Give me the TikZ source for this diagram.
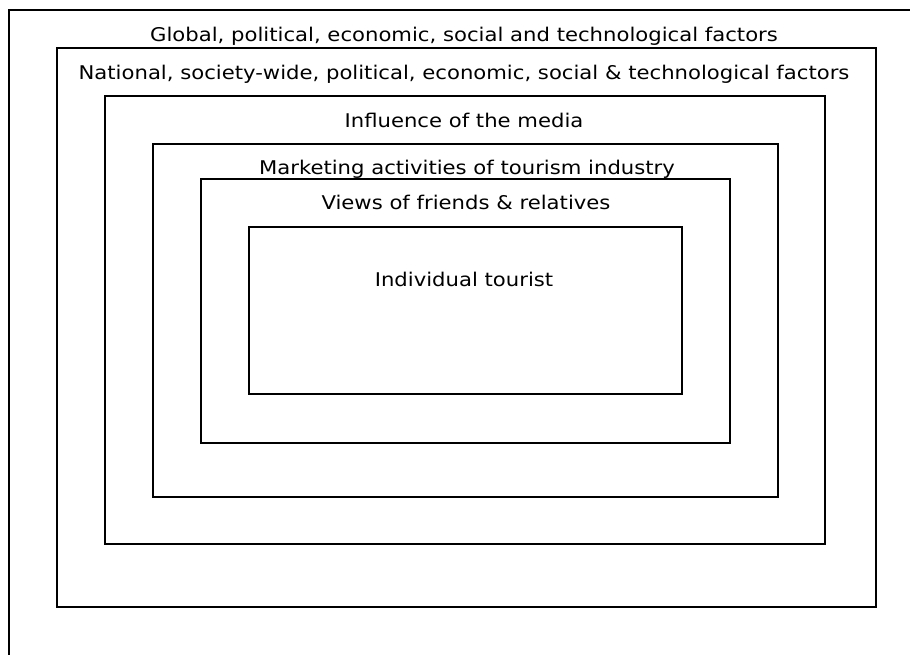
\documentclass[tikz,border=0pt]{standalone}
\usepackage{fontspec}
\setmainfont[FakeStretch=1.12]{DejaVu Sans}
\usepackage{tikz}
\usetikzlibrary{positioning}

\begin{document}
\begin{tikzpicture}[
		x=1pt, y=-1pt,
		layer/.style={draw=black, line width=2pt},
		label/.style={anchor=base, inner sep=0pt, font=\fontsize{18.9}{22}\selectfont}
		]
	
		\clip (0,0) rectangle (910,655);
		\fill[white] (0,0) rectangle (910,655);
	
		% nested boxes, outside in
		\draw[layer] (9,10) rectangle (930,680);
		\draw[layer] (57,48) rectangle (876,607);
		\draw[layer] (105,96) rectangle (825,544);
		\draw[layer] (153,144) rectangle (778,497);
		\draw[layer] (201,179) rectangle (730,443);
		\draw[layer] (249,227) rectangle (682,394);
	
		\node[label] (global) at (464,41.7) {Global, political, economic, social and technological factors};
		\node[label] (national) at (464,80) {National, society-wide, political, economic, social \& technological factors};
		\node[label] (media) at (464,127.3) {Influence of the media};
		\node[label] (marketing) at (467,175) {Marketing activities of tourism industry};
		\node[label] (friends) at (466,210) {Views of friends \& relatives};
		\node[label] (tourist) at (464,286.7) {Individual tourist};
	
	\end{tikzpicture}
\end{document}
